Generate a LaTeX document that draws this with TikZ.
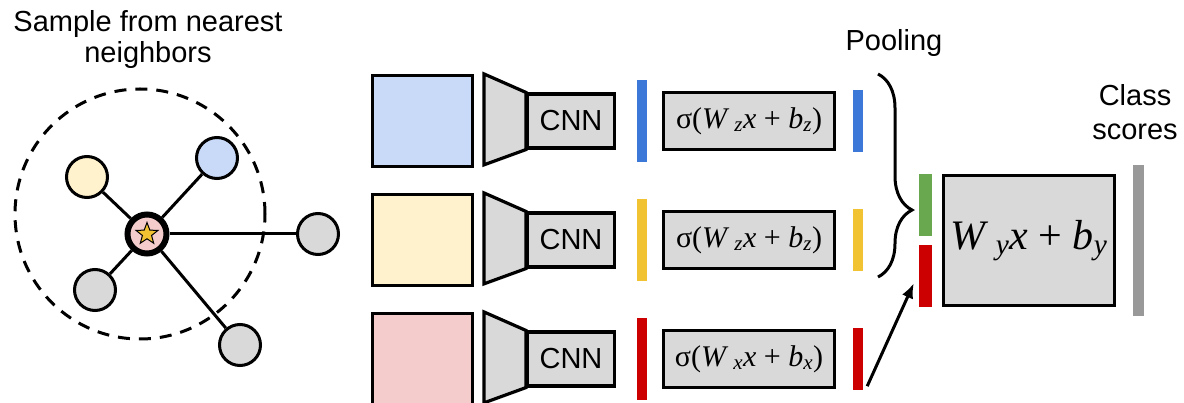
\documentclass[tikz,border=0pt]{standalone}
\usepackage{fontspec}
\setmainfont{Liberation Sans}
\newfontfamily\formfont{Liberation Serif}
\usetikzlibrary{shapes.geometric,decorations.pathreplacing,arrows.meta}

\definecolor{lightblue}{HTML}{C9DAF8}
\definecolor{lightyellow}{HTML}{FFF2CC}
\definecolor{lightpink}{HTML}{F4CCCC}
\definecolor{boxgray}{HTML}{D9D9D9}
\definecolor{barblue}{HTML}{3C78D8}
\definecolor{baryellow}{HTML}{F1C232}
\definecolor{barred}{HTML}{CC0000}
\definecolor{bargreen}{HTML}{6AA84F}
\definecolor{bargray}{HTML}{999999}
\definecolor{staryellow}{HTML}{F1C232}

% sigma(W x + b) with a given subscript
\newcommand{\gate}[1]{σ(\textit{W}\,\textsubscript{\textit{#1}}\textit{x} + \textit{b}\textsubscript{\textit{#1}})}

\begin{document}
\begin{tikzpicture}[x=1pt, y=-1pt,
	every node/.style = {inner sep = 0pt},
	caption/.style = {font = \fontsize{29}{31}\selectfont, align = center},
	box/.style = {draw, line width = 3.2pt, fill = boxgray},
	nbr/.style = {circle, draw, line width = 3pt, minimum size = 41},
	edge/.style = {line width = 3pt}]
\useasboundingbox (0,0) rectangle (1184,403);

% neighbourhood graph
\node [caption] (title) at (148,40) {Sample from nearest\\neighbors};
\node [circle, draw, line width = 3pt, dash pattern = on 12pt off 9pt,
	minimum size = 250] (hood) at (140,214) {};
\node [nbr, fill = lightyellow] (n1) at (87,177) {};
\node [nbr, fill = lightblue] (n2) at (217,158) {};
\node [nbr, fill = boxgray] (n3) at (318,234) {};
\node [nbr, fill = boxgray] (n4) at (95,290) {};
\node [nbr, fill = boxgray] (n5) at (240,345) {};
\node [circle, draw, line width = 6pt, fill = lightpink, minimum size = 39]
	(query) at (147,234) {};
\node [star, star points = 5, star point ratio = 2.4, draw, line width = 1pt,
	fill = staryellow, minimum size = 23] (qstar) at (query) {};
\foreach \i in {1,...,5}
	\draw [edge] (query) -- (n\i);

% one branch per sample
\foreach \r/\y/\img/\col/\s in {1/121/lightblue/barblue/z,
	2/240/lightyellow/baryellow/z, 3/359/lightpink/barred/x} {
	\node [box, fill = \img, minimum width = 100, minimum height = 91]
		(img\r) at (422.5,\y) {};
	\node [box, minimum width = 87, minimum height = 54, caption]
		(cnn\r) at (571,\y) {CNN};
	\draw [box] (cnn\r.north west) -- ++(-42,-18.5) -- ++(0,91)
		-- (cnn\r.south west) -- cycle;
	\node [fill = \col, minimum width = 10, minimum height = 82]
		(feat\r) at (642,\y) {};
	\node [box, minimum width = 171, minimum height = 57,
		font = \fontsize{30}{32}\selectfont\formfont] (gate\r) at (749,\y) {\gate{\s}};
	\node [fill = \col, minimum width = 10, minimum height = 62]
		(emb\r) at (858,\y) {};
}

% pooling and classifier
\node [caption] (pooltxt) at (894,43) {Pooling};
\coordinate (btop) at (878,74);
\coordinate (bbot) at (878,277);
\draw [decorate, decoration = {brace, amplitude = 34pt, aspect = 0.67},
	line width = 3pt] (btop) -- (bbot);
\node [fill = bargreen, minimum width = 13, minimum height = 62] (poolg) at (925.5,205) {};
\node [fill = barred, minimum width = 13, minimum height = 62] (poolr) at (925.5,276) {};
\draw [edge, -{Latex[length = 15pt, width = 12pt]}]
	([shift = {(4,-4)}]emb3.south east) -- ([shift = {(-5,-24)}]poolr.south west);
\node [box, minimum width = 171, minimum height = 130,
	font = \fontsize{42}{46}\selectfont\formfont] (cls) at (1029,240.5)
	{\textit{W}\,\textsubscript{\textit{y}}\textit{x} + \textit{b}\textsubscript{\textit{y}}};
\node [fill = bargray, minimum width = 11, minimum height = 151] (scores) at (1138.5,240.5) {};
\node [caption, font = \fontsize{29}{34}\selectfont] (scoretxt) at (1135,112) {Class\\scores};
\end{tikzpicture}
\end{document}
